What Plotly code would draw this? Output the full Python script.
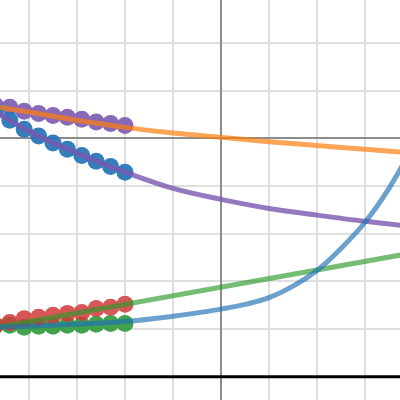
import plotly.graph_objects as go

# sample positions of the dots
dot_x = [-4.7, -4.4, -4.1, -3.8, -3.5, -3.2, -2.9, -2.6, -2.3, -2.0]
purple_dots = [0.69, 0.65, 0.57, 0.52, 0.48, 0.44, 0.40, 0.34, 0.31, 0.27]
blue_dots = [0.57, 0.38, 0.19, 0.05, -0.10, -0.23, -0.36, -0.48, -0.59, -0.71]
red_dots = [-3.92, -3.86, -3.78, -3.75, -3.71, -3.67, -3.65, -3.57, -3.54, -3.48]
green_dots = [-3.93, -3.92, -3.96, -3.94, -3.94, -3.92, -3.92, -3.90, -3.88, -3.88]

# curves
curve_x = [-5, -4, -3, -2, -1, 0, 1, 2, 3, 4]
orange_curve = [0.71, 0.55, 0.38, 0.23, 0.11, 0.02, -0.07, -0.15, -0.23, -0.31]
purple_curve = [0.75, 0.15, -0.31, -0.71, -1.05, -1.28, -1.47, -1.61, -1.74, -1.85]

green_x = [-5, -2, 0, 2, 4]
green_curve = [-4.02, -3.48, -3.12, -2.76, -2.40]

blue_x = [-5, -4, -3, -2, -1, -0.5, 0, 0.5, 1, 1.5, 2, 2.5, 3, 3.5, 4]
blue_curve = [-3.96, -3.94, -3.90, -3.84, -3.73, -3.66, -3.58, -3.48, -3.34,
              -3.10, -2.77, -2.31, -1.76, -1.05, -0.15]

baseline_y = -5

fig = go.Figure()

dot_size = 17
fig.add_trace(go.Scatter(x=dot_x, y=purple_dots, mode="markers",
                         marker=dict(color="#8160b6", size=dot_size), opacity=0.95))
fig.add_trace(go.Scatter(x=dot_x, y=blue_dots, mode="markers",
                         marker=dict(color="#2a79b8", size=dot_size), opacity=0.95))
fig.add_trace(go.Scatter(x=dot_x, y=green_dots, mode="markers",
                         marker=dict(color="#2f9a3a", size=dot_size), opacity=0.9))
fig.add_trace(go.Scatter(x=dot_x, y=red_dots, mode="markers",
                         marker=dict(color="#d03a39", size=dot_size), opacity=0.85))

lw = 5
fig.add_trace(go.Scatter(x=curve_x, y=orange_curve, mode="lines", line_shape="spline",
                         line=dict(color="#ff7f0e", width=lw), opacity=0.7))
fig.add_trace(go.Scatter(x=curve_x, y=purple_curve, mode="lines", line_shape="spline",
                         line=dict(color="#7a58b2", width=lw), opacity=0.8))
fig.add_trace(go.Scatter(x=green_x, y=green_curve, mode="lines",
                         line=dict(color="#2c9a2c", width=lw), opacity=0.65))
fig.add_trace(go.Scatter(x=blue_x, y=blue_curve, mode="lines", line_shape="spline",
                         line=dict(color="#1f6fb4", width=lw, smoothing=1.2), opacity=0.65))

fig.add_hline(y=baseline_y, line=dict(color="black", width=3))

axis_common = dict(showticklabels=False, ticks="", dtick=1, tick0=0,
                   showgrid=True, gridcolor="#dedede", gridwidth=2,
                   zeroline=True, zerolinecolor="#8c8c8c", zerolinewidth=2,
                   showline=False)
fig.update_xaxes(range=[-4.604, 3.729], **axis_common)
fig.update_yaxes(range=[-5.486, 2.90], **axis_common)

fig.update_layout(width=400, height=400, margin=dict(l=0, r=0, t=0, b=0),
                  plot_bgcolor="white", paper_bgcolor="white", showlegend=False)

fig.write_html("out.html", config={"displayModeBar": False},
               post_script="document.body.style.margin='0';document.body.style.padding='0';document.body.style.overflow='hidden';")
